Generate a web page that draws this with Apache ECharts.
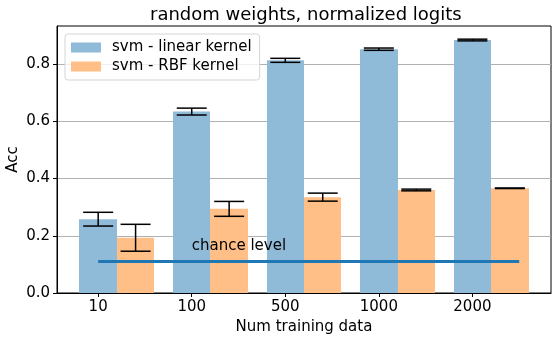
<!DOCTYPE html>
<html style="height: 100%">
<head>
<meta charset="utf-8">
</head>
<body style="height: 100%; margin: 0">
<div id="container" style="width: 558px; height: 341px"></div>
<script type="text/javascript" src="https://cdn.jsdelivr.net/npm/echarts@6/dist/echarts.min.js"></script>
<script type="text/javascript">
var categories = ['10', '100', '500', '1000', '2000'];
var linearAcc = [0.258, 0.634, 0.813, 0.852, 0.884];
var linearErr = [0.024, 0.012, 0.007, 0.004, 0.003];
var rbfAcc = [0.193, 0.294, 0.335, 0.360, 0.366];
var rbfErr = [0.047, 0.026, 0.014, 0.003, 0.001];
var chanceLevel = 0.11;
var chanceEnd = 4.5;
var yTicks = [0, 0.2, 0.4, 0.6, 0.8];

var FONT = 'DejaVu Sans';
var BAR_W = 0.4;

function barData(acc, err, offset) {
    return acc.map(function (v, i) { return [i + offset, v, err[i]]; });
}

function renderBar(params, api) {
    var x = api.value(0), y = api.value(1);
    var p0 = api.coord([x - BAR_W / 2, y]);
    var p1 = api.coord([x + BAR_W / 2, 0]);
    return {
        type: 'rect',
        shape: { x: Math.round(p0[0]), y: p0[1], width: Math.round(p1[0]) - Math.round(p0[0]), height: p1[1] - p0[1] },
        style: api.style()
    };
}

function renderErr(params, api) {
    var x = api.value(0), y = api.value(1), e = api.value(2);
    var hi = api.coord([x, y + e]);
    var lo = api.coord([x, y - e]);
    var cap = 15;
    var st = { stroke: '#000', lineWidth: 1.5 };
    return {
        type: 'group',
        children: [
            { type: 'line', shape: { x1: hi[0], y1: hi[1], x2: lo[0], y2: lo[1] }, style: st },
            { type: 'line', shape: { x1: hi[0] - cap, y1: hi[1], x2: hi[0] + cap, y2: hi[1] }, style: st },
            { type: 'line', shape: { x1: lo[0] - cap, y1: lo[1], x2: lo[0] + cap, y2: lo[1] }, style: st }
        ]
    };
}

var dom = document.getElementById('container');
var myChart = echarts.init(dom);
var option = {
    animation: false,
    textStyle: { fontFamily: FONT },
    title: {
        text: 'random weights, normalized logits',
        left: 145,
        top: 1,
        textStyle: { fontFamily: FONT, fontSize: 18, fontWeight: 'normal', color: '#000' }
    },
    legend: {
        data: ['svm - linear kernel', 'svm - RBF kernel'],
        orient: 'vertical',
        left: 65,
        top: 34,
        icon: 'rect',
        itemWidth: 30,
        itemHeight: 10,
        itemGap: 4,
        padding: [6, 8, 6, 6],
        borderColor: '#d5d5d5',
        borderWidth: 1,
        borderRadius: 3,
        backgroundColor: 'rgba(255,255,255,0.8)',
        textStyle: { fontFamily: FONT, fontSize: 15, color: '#000', padding: [0, 0, 0, 6] }
    },
    grid: {
        left: 57, top: 26, right: 7, bottom: 48,
        outerBoundsMode: 'none',
        show: true, borderColor: '#000', borderWidth: 1
    },
    xAxis: {
        type: 'value',
        min: -0.44,
        max: 4.84,
        name: 'Num training data',
        nameLocation: 'middle',
        nameGap: 27,
        nameMoveOverlap: false,
        nameTextStyle: { fontFamily: FONT, fontSize: 15, color: '#000' },
        splitLine: { show: false },
        axisLine: { onZero: false, lineStyle: { color: '#000' } },
        axisTick: { customValues: [0, 1, 2, 3, 4], length: 4, lineStyle: { color: '#000' } },
        axisLabel: {
            customValues: [0, 1, 2, 3, 4],
            fontSize: 15, color: '#000', margin: 7,
            formatter: function (v) { return categories[Math.round(v)]; }
        }
    },
    yAxis: {
        type: 'value',
        min: 0,
        max: 0.933,
        name: 'Acc',
        nameLocation: 'middle',
        nameGap: 36,
        nameMoveOverlap: false,
        nameTextStyle: { fontFamily: FONT, fontSize: 15, color: '#000' },
        splitLine: { show: true, lineStyle: { color: '#b0b0b0', width: 1 } },
        axisLine: { show: true, onZero: false, lineStyle: { color: '#000' } },
        axisTick: { show: true, customValues: yTicks, length: 4, lineStyle: { color: '#000' } },
        axisLabel: {
            customValues: yTicks,
            fontSize: 15, color: '#000', margin: 7,
            formatter: function (v) { return v.toFixed(1); }
        }
    },
    series: [
        {
            name: 'svm - linear kernel',
            type: 'custom',
            renderItem: renderBar,
            itemStyle: { color: '#8fbbd9' },
            encode: { x: 0, y: 1 },
            data: barData(linearAcc, linearErr, 0),
            z: 2
        },
        {
            name: 'svm - RBF kernel',
            type: 'custom',
            renderItem: renderBar,
            itemStyle: { color: '#ffbf86' },
            encode: { x: 0, y: 1 },
            data: barData(rbfAcc, rbfErr, BAR_W),
            z: 2
        },
        {
            name: 'err-linear',
            type: 'custom',
            renderItem: renderErr,
            encode: { x: 0, y: 1 },
            data: barData(linearAcc, linearErr, 0),
            z: 3
        },
        {
            name: 'err-rbf',
            type: 'custom',
            renderItem: renderErr,
            encode: { x: 0, y: 1 },
            data: barData(rbfAcc, rbfErr, BAR_W),
            z: 3
        },
        {
            name: 'chance',
            type: 'line',
            symbol: 'none',
            lineStyle: { color: '#1f77b4', width: 3 },
            data: [[0, chanceLevel], [chanceEnd, chanceLevel]],
            z: 4
        },
        {
            name: 'chance-text',
            type: 'custom',
            encode: { x: 0, y: 1 },
            data: [[1, 0.15]],
            renderItem: function (params, api) {
                var p = api.coord([api.value(0), api.value(1)]);
                return {
                    type: 'text',
                    x: p[0], y: p[1] + 4,
                    style: {
                        text: 'chance level',
                        font: '15px "DejaVu Sans"',
                        fill: '#000',
                        align: 'left',
                        verticalAlign: 'bottom'
                    }
                };
            },
            z: 5
        }
    ]
};
myChart.setOption(option);
</script>
</body>
</html>
